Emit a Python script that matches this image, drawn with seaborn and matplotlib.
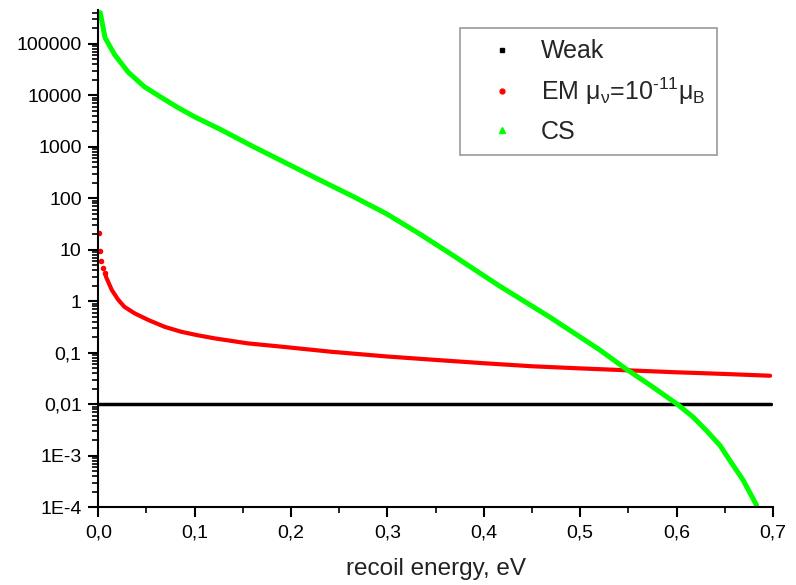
import matplotlib
matplotlib.use("Agg")
import matplotlib.pyplot as plt
from matplotlib.lines import Line2D
from matplotlib.ticker import FixedLocator, LogLocator, NullFormatter, MultipleLocator
import numpy as np
import pandas as pd
import seaborn as sns

# Recoil energy (eV) and differential rates for the three interaction channels
weak_energy = [0.0, 0.1, 0.2, 0.3, 0.4, 0.5, 0.6, 0.698]
weak_rate = [0.01, 0.01, 0.01, 0.01, 0.01, 0.01, 0.01, 0.01]

em_energy = [0.001, 0.002, 0.003, 0.005, 0.007, 0.0083, 0.014, 0.0204, 0.027,
             0.0377, 0.052, 0.0689, 0.086, 0.1034, 0.121, 0.155, 0.19, 0.242,
             0.3, 0.35, 0.4, 0.45, 0.5, 0.548, 0.6, 0.65, 0.697]
em_rate = [21, 9.6, 6.2, 4.4, 3.5, 2.9, 1.66, 1.09, 0.785,
           0.585, 0.434, 0.32, 0.257, 0.219, 0.191, 0.153, 0.132, 0.105,
           0.085, 0.073, 0.063, 0.055, 0.05, 0.046, 0.042, 0.039, 0.036]

cs_energy = [0.002, 0.007, 0.017, 0.031, 0.048, 0.066, 0.083, 0.1, 0.126, 0.161,
             0.195, 0.23, 0.265, 0.299, 0.334, 0.368, 0.416, 0.468, 0.52, 0.548,
             0.572, 0.601, 0.617, 0.631, 0.645, 0.655, 0.669, 0.683]
cs_rate = [4.0e5, 1.3e5, 6.1e4, 2.8e4, 1.45e4, 8.9e3, 5.7e3, 3.8e3, 2.2e3, 1.0e3,
           480, 225, 107, 50, 20, 7.8, 2.0, 0.5, 0.115, 0.048,
           0.024, 0.01, 5.7e-3, 3.1e-3, 1.6e-3, 8.3e-4, 3.4e-4, 1.1e-4]

x_tick_values = [0.0, 0.1, 0.2, 0.3, 0.4, 0.5, 0.6, 0.7]
x_tick_labels = ["0,0", "0,1", "0,2", "0,3", "0,4", "0,5", "0,6", "0,7"]
y_tick_values = [1e-4, 1e-3, 1e-2, 1e-1, 1, 10, 100, 1000, 1e4, 1e5]
y_tick_labels = ["1E-4", "1E-3", "0,01", "0,1", "1", "10", "100", "1000", "10000", "100000"]

sns.set_theme(style="ticks")
plt.rcParams["font.family"] = ["Liberation Sans", "DejaVu Sans"]
plt.rcParams["mathtext.fontset"] = "custom"
plt.rcParams["mathtext.rm"] = "Liberation Sans"
plt.rcParams["mathtext.it"] = "Liberation Sans:italic"

weak_df = pd.DataFrame({"energy": weak_energy, "rate": weak_rate})
em_df = pd.DataFrame({"energy": em_energy, "rate": em_rate})
cs_df = pd.DataFrame({"energy": cs_energy, "rate": cs_rate})

fig = plt.figure(figsize=(7.96, 5.85), dpi=100)
ax = fig.add_axes([0.1235, 0.1325, 0.8476, 0.8504])
ax.set_yscale("log")

sns.lineplot(data=weak_df, x="energy", y="rate", ax=ax, color="black", lw=2.5)
# the first few EM points are sparse dots, the rest merge into a dense band
sns.scatterplot(data=em_df.iloc[:5], x="energy", y="rate", ax=ax, color="#ff0000",
                s=16, linewidth=0)
sns.lineplot(data=em_df.iloc[4:], x="energy", y="rate", ax=ax, color="#ff0000",
             lw=3.0, solid_joinstyle="round", solid_capstyle="round")
sns.lineplot(data=cs_df, x="energy", y="rate", ax=ax, color="#00ff00", lw=3.6,
             solid_joinstyle="round")

ax.set_xlim(0, 0.7)
ax.set_ylim(1e-4, 4.5e5)

ax.xaxis.set_major_locator(FixedLocator(x_tick_values))
ax.set_xticklabels(x_tick_labels)
ax.xaxis.set_minor_locator(MultipleLocator(0.05))
ax.yaxis.set_major_locator(FixedLocator(y_tick_values))
ax.set_yticklabels(y_tick_labels)
ax.yaxis.set_minor_locator(LogLocator(base=10, subs=np.arange(2, 10), numticks=20))
ax.yaxis.set_minor_formatter(NullFormatter())

ax.tick_params(axis="both", which="major", direction="out", length=7, width=1.5,
               labelsize=14, colors="black", pad=5)
ax.tick_params(axis="both", which="minor", direction="out", length=4, width=1.2,
               colors="black")
for side in ("left", "bottom"):
    ax.spines[side].set_linewidth(1.5)
    ax.spines[side].set_color("black")
for side in ("top", "right"):
    ax.spines[side].set_visible(False)

ax.set_xlabel("recoil energy, eV", fontsize=17.5, color="#222222", labelpad=12)
ax.set_ylabel("")

handles = [
    Line2D([], [], ls="none", marker="s", markersize=3.5, color="black"),
    Line2D([], [], ls="none", marker="o", markersize=3.5, color="#ff0000"),
    Line2D([], [], ls="none", marker="^", markersize=4, color="#00ff00"),
]
labels = ["Weak",
          "EM μ$_\\mathregular{ν}$=10$^\\mathregular{\u201011}$μ$_\\mathregular{B}$",
          "CS"]
leg = ax.legend(handles, labels, loc="upper left", bbox_to_anchor=(0.578, 0.952),
                bbox_transform=fig.transFigure, borderaxespad=0, fontsize=18,
                frameon=True, fancybox=False, edgecolor="#999999", framealpha=1,
                borderpad=0.45, handlelength=2.45, handletextpad=0.33,
                labelspacing=0.5)
leg.get_frame().set_linewidth(1.2)

fig.savefig("out.png", dpi=100)
